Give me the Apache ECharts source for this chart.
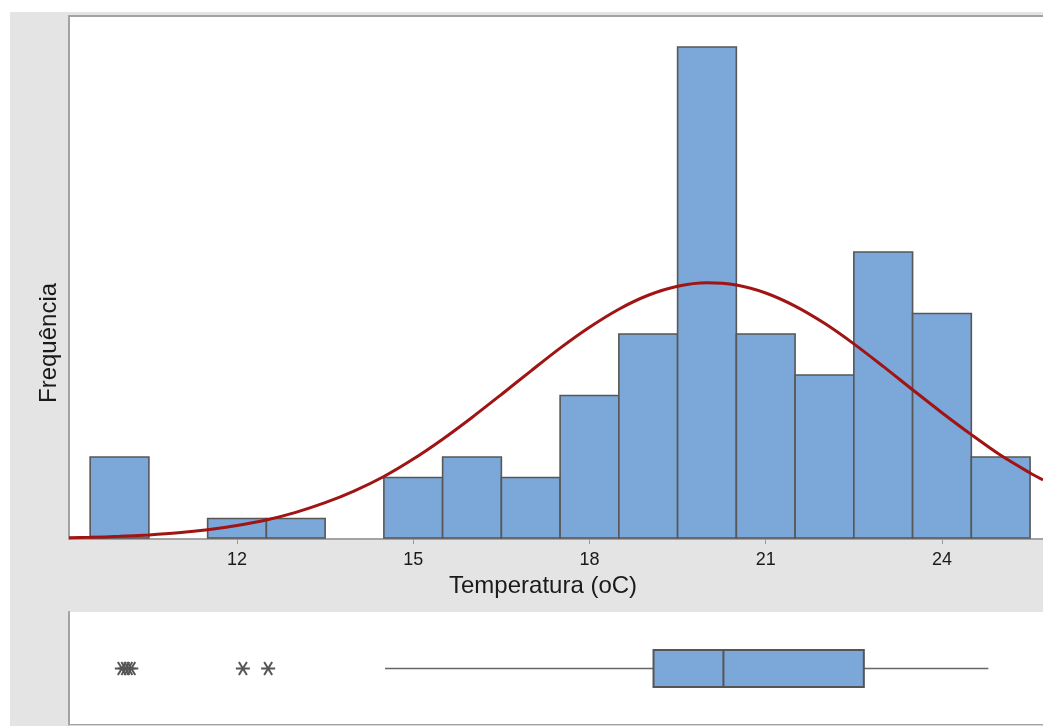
<!DOCTYPE html>
<html><head><meta charset="utf-8">
<script src="https://cdn.jsdelivr.net/npm/echarts@6/dist/echarts.min.js"></script>
<style>
html,body{margin:0;padding:0;background:#fff;overflow:hidden}
#bg{position:absolute;left:10px;top:12px;width:1033px;height:714px;background:#e4e4e4}
#c{position:absolute;left:0;top:0;width:1043px;height:726px}
</style>
</head><body><div id="bg"></div><div id="c"></div>
<script>
// Histogram bins (centres, width 1) and counts
const binCenters = [10, 11, 12, 13, 14, 15, 16, 17, 18, 19, 20, 21, 22, 23, 24, 25];
const binCounts  = [4, 0, 1, 1, 0, 3, 4, 3, 7, 10, 24, 10, 8, 14, 11, 4];
// Fitted normal curve (every 0.5 °C)
const curveX = [9.14, 9.5, 10, 10.5, 11, 11.5, 12, 12.5, 13, 13.5, 14, 14.5, 15, 15.5, 16, 16.5, 17, 17.5, 18, 18.5, 19, 19.5, 20, 20.5, 21, 21.5, 22, 22.5, 23, 23.5, 24, 24.5, 25, 25.5, 25.72];
const curveY = [0.06, 0.08, 0.13, 0.20, 0.30, 0.45, 0.66, 0.93, 1.30, 1.77, 2.35, 3.05, 3.90, 4.87, 5.93, 7.05, 8.19, 9.31, 10.33, 11.21, 11.89, 12.33, 12.50, 12.39, 12.00, 11.36, 10.52, 9.52, 8.42, 7.28, 6.16, 5.09, 4.08, 3.22, 2.88];
// Tick labels
const tickValues = [12, 15, 18, 21, 24];
// Boxplot: min whisker, Q1, median, Q3, max whisker
const boxStats = [14.52, 19.09, 20.28, 22.67, 24.79];
const outliers = [10.04, 10.10, 10.15, 10.20, 12.10, 12.53];

const xMin = 9.14, xMax = 25.72;
const chart = echarts.init(document.getElementById('c'), null, {renderer: 'canvas'});
const FONT = '"Liberation Sans", Arial, sans-serif';
const frame = {show: true, lineStyle: {color: '#a3a3a3', width: 2}};

chart.setOption({
  animation: false,
  backgroundColor: 'transparent',
  grid: [
    {left: 69, top: 16, right: 0, height: 523, show: true, backgroundColor: '#fff', borderWidth: 0},
    {left: 69, top: 612, right: 0, height: 113, show: true, backgroundColor: '#fff', borderWidth: 0}
  ],
  xAxis: [
    {type: 'value', gridIndex: 0, min: xMin, max: xMax, position: 'bottom',
     axisLine: frame, splitLine: {show: false},
     axisTick: {show: true, customValues: tickValues, length: 5, lineStyle: {color: '#9a9a9a', width: 1}},
     axisLabel: {show: true, customValues: tickValues, margin: 12, fontSize: 18, color: '#1a1a1a', fontFamily: FONT}},
    {type: 'value', gridIndex: 0, min: xMin, max: xMax, position: 'top',
     axisLine: frame, axisTick: {show: false}, axisLabel: {show: false}, splitLine: {show: false}},
    {type: 'value', gridIndex: 1, min: xMin, max: xMax, position: 'top',
     axisLine: frame, axisTick: {show: false}, axisLabel: {show: false}, splitLine: {show: false}},
    {type: 'value', gridIndex: 1, min: xMin, max: xMax, position: 'bottom',
     axisLine: {show: true, lineStyle: {color: '#d8d8d8', width: 1}}, axisTick: {show: false}, axisLabel: {show: false}, splitLine: {show: false}}
  ],
  yAxis: [
    {type: 'value', gridIndex: 0, min: 0, max: 523 / 20.5, axisLine: frame, axisTick: {show: false}, axisLabel: {show: false}, splitLine: {show: false}},
    {type: 'value', gridIndex: 1, min: 0, max: 1, axisLine: frame, axisTick: {show: false}, axisLabel: {show: false}, splitLine: {show: false}}
  ],
  graphic: [
    {type: 'text', left: 549 - 100, top: 574, style: {text: 'Temperatura (oC)', font: '24px ' + FONT, fill: '#1a1a1a'}},
    {type: 'text', x: 37, y: 403, rotation: Math.PI / 2, style: {text: 'Frequência', font: '24px ' + FONT, fill: '#1a1a1a'}}
  ],
  series: [
    {
      type: 'custom', xAxisIndex: 0, yAxisIndex: 0, clip: true,
      data: binCenters.map((c, i) => [c, binCounts[i]]),
      renderItem: function (params, api) {
        const c = api.value(0), n = api.value(1);
        if (!n) return null;
        const p0 = api.coord([c - 0.5, n]);
        const p1 = api.coord([c + 0.5, 0]);
        return {type: 'rect', shape: {x: p0[0], y: p0[1], width: p1[0] - p0[0], height: p1[1] - p0[1] - 1},
                style: {fill: '#7ba7d9', stroke: '#575757', lineWidth: 1.6}};
      }
    },
    {
      type: 'line', xAxisIndex: 0, yAxisIndex: 0, smooth: 0.3, showSymbol: false, clip: true,
      data: curveX.map((x, i) => [x, curveY[i]]),
      lineStyle: {color: '#a01414', width: 3}, z: 5
    },
    {
      type: 'custom', xAxisIndex: 2, yAxisIndex: 1,
      data: [boxStats],
      renderItem: function (params, api) {
        const mn = api.value(0), q1 = api.value(1), md = api.value(2), q3 = api.value(3), mx = api.value(4);
        const pMin = api.coord([mn, 0.5]), pQ1 = api.coord([q1, 0.5]), pMd = api.coord([md, 0.5]),
              pQ3 = api.coord([q3, 0.5]), pMax = api.coord([mx, 0.5]);
        const h = 37, y = pMin[1];
        const line = {stroke: '#666', lineWidth: 1.6};
        const dark = {stroke: '#555', lineWidth: 2};
        return {type: 'group', children: [
          {type: 'line', shape: {x1: pMin[0], y1: y, x2: pQ1[0], y2: y}, style: line},
          {type: 'line', shape: {x1: pQ3[0], y1: y, x2: pMax[0], y2: y}, style: line},
          {type: 'rect', shape: {x: pQ1[0], y: y - h / 2, width: pQ3[0] - pQ1[0], height: h}, style: {fill: '#7ba7d9', stroke: '#555', lineWidth: 2}},
          {type: 'line', shape: {x1: pMd[0], y1: y - h / 2, x2: pMd[0], y2: y + h / 2}, style: dark}
        ]};
      }
    },
    {
      type: 'custom', xAxisIndex: 2, yAxisIndex: 1,
      data: outliers.map(v => [v, 0.5]),
      renderItem: function (params, api) {
        const p = api.coord([api.value(0), api.value(1)]);
        const s = {stroke: '#555', lineWidth: 2};
        const x = p[0], y = p[1];
        return {type: 'group', children: [
          {type: 'line', shape: {x1: x - 7, y1: y, x2: x + 7, y2: y}, style: s},
          {type: 'line', shape: {x1: x - 4, y1: y - 6.5, x2: x + 4, y2: y + 6.5}, style: s},
          {type: 'line', shape: {x1: x + 4, y1: y - 6.5, x2: x - 4, y2: y + 6.5}, style: s}
        ]};
      }
    }
  ]
});
</script>
</body></html>
